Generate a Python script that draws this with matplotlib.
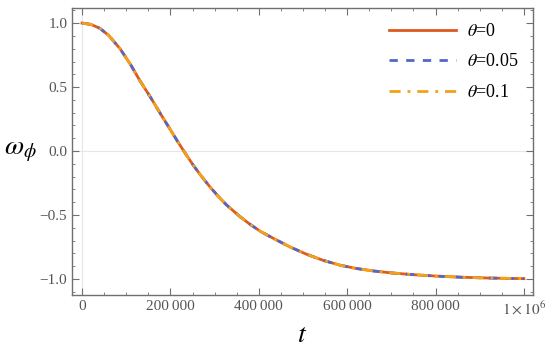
#Libraries
import matplotlib
matplotlib.use("Agg")
import matplotlib.pyplot as plt
from matplotlib.ticker import MultipleLocator, FuncFormatter

#Data (all three theta values overlap)
t_vals = [0, 20e3, 40e3, 60e3, 86e3, 110e3, 131e3, 155e3, 176e3, 199e3, 220e3,
          236e3, 252e3, 270e3, 290e3, 310e3, 327e3, 357e3, 380e3, 405e3, 433e3,
          470e3, 508e3, 545e3, 584e3, 620e3, 660e3, 700e3, 750e3, 802e3, 860e3,
          920e3, 1e6]
w_theta0 = [1.0, 0.99, 0.96, 0.905, 0.80, 0.675, 0.55, 0.42, 0.30, 0.172, 0.055,
            -0.03, -0.112, -0.196, -0.282, -0.36, -0.421, -0.511, -0.572, -0.63, -0.682,
            -0.748, -0.806, -0.853, -0.892, -0.917, -0.937, -0.952, -0.966, -0.977, -0.986,
            -0.992, -0.997]
w_theta005 = list(w_theta0)
w_theta01 = list(w_theta0)
labels = [r"$\theta$=0", r"$\theta$=0.05", r"$\theta$=0.1"]
colors = ["#DE5A1E", "#5566C8", "#F2A118"]

plt.rcParams["font.family"] = "Liberation Serif"
plt.rcParams["mathtext.fontset"] = "stix"

fig = plt.figure(figsize=(5.5, 3.5), dpi=100)
ax = fig.add_axes([0.131, 0.157, 0.838, 0.819])

ax.axhline(0, color="#e6e6e6", lw=0.8, zorder=0)
ax.axvline(0, color="#e6e6e6", lw=0.8, zorder=0)

ax.plot(t_vals, w_theta0, color=colors[0], lw=2.0, label=labels[0])
ax.plot(t_vals, w_theta005, color=colors[1], lw=2.0, ls=(0, (3, 3)), label=labels[1])
ax.plot(t_vals, w_theta01, color=colors[2], lw=2.0, ls=(0, (4, 2.5, 1, 2.5)), label=labels[2])

ax.set_xlim(-0.0226e6, 1.0204e6)
ax.set_ylim(-1.125, 1.115)

def xfmt(v, pos):
    if abs(v - 1e6) < 1:
        return r"$1\times10^6$"
    return "{:,}".format(int(round(v))).replace(",", "\u2009")

ax.xaxis.set_major_locator(MultipleLocator(200000))
ax.xaxis.set_minor_locator(MultipleLocator(50000))
ax.xaxis.set_major_formatter(FuncFormatter(xfmt))
ax.yaxis.set_major_locator(MultipleLocator(0.5))
ax.yaxis.set_minor_locator(MultipleLocator(0.1))
ax.yaxis.set_major_formatter(FuncFormatter(lambda v, p: f"{v:.1f}".replace("-", "\u2212")))

frame_col = "#707070"
for s in ax.spines.values():
    s.set_color(frame_col)
    s.set_linewidth(1.0)
ax.tick_params(which="both", direction="in", top=True, right=True, colors=frame_col,
               labelcolor="#555555", labelsize=11)
ax.tick_params(which="major", length=5, width=0.8)
ax.tick_params(which="minor", length=2.5, width=0.6)

ax.set_xlabel(r"$t$", fontsize=20, labelpad=4)
ax.set_ylabel(r"$\omega_\phi$", fontsize=20, rotation=0, labelpad=14, va="center")

leg = ax.legend(loc="upper right", frameon=False, fontsize=13, handlelength=3.7,
                labelspacing=0.75, handletextpad=0.6, borderaxespad=0.4)

fig.savefig("out.png", dpi=100)
